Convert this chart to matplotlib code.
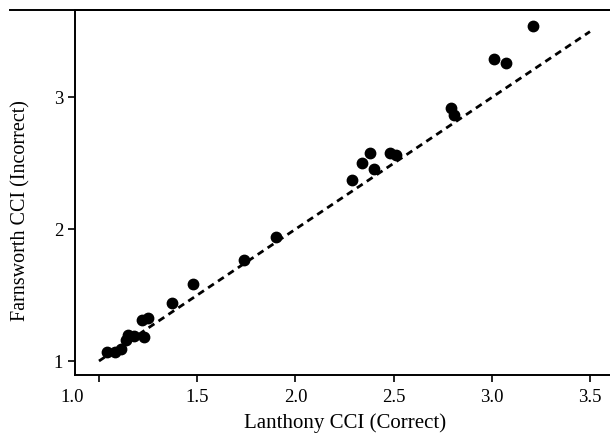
import matplotlib
matplotlib.use("Agg")
import matplotlib.pyplot as plt
import matplotlib.transforms as mtransforms
from matplotlib.lines import Line2D

# Lanthony vs Farnsworth CCI
lanthony = [1.04, 1.08, 1.11, 1.14, 1.15, 1.18, 1.22, 1.25, 1.23, 1.37, 1.48,
            1.74, 1.90, 2.29, 2.34, 2.38, 2.40, 2.48, 2.51, 2.79, 2.81,
            3.01, 3.07, 3.21]
farnsworth = [1.07, 1.07, 1.09, 1.16, 1.20, 1.19, 1.31, 1.33, 1.18, 1.44, 1.585,
              1.77, 1.94, 2.37, 2.50, 2.58, 2.46, 2.58, 2.56, 2.92, 2.87,
              3.29, 3.26, 3.54]
ident = [1.0, 3.5]
xticks = [1.0, 1.5, 2.0, 2.5, 3.0, 3.5]
yticks = [1, 2, 3]

plt.rcParams['font.family'] = ['Liberation Serif', 'DejaVu Serif']

fig = plt.figure(figsize=(6.10, 4.34), dpi=100)
ax = fig.add_axes([0.123, 0.136, 0.877, 0.841])

ax.plot(ident, ident, color="black", lw=2.0, linestyle=(0, (2.5, 1.8)))
ax.scatter(lanthony, farnsworth, s=56, color="black", zorder=3)

ax.set_xlim(0.878, 3.602)
ax.set_ylim(0.894, 3.664)
ax.set_xticks(xticks)
ax.set_xticklabels(["%.1f" % v for v in xticks])
ax.set_yticks(yticks)
ax.set_yticklabels([str(v) for v in yticks])
ax.tick_params(direction="out", length=5, width=1.2, labelsize=13.5, color="black")
ax.tick_params(axis="x", pad=5)

# first x label sits left of its tick in the original
lab = ax.get_xticklabels()[0]
lab.set_transform(lab.get_transform() + mtransforms.ScaledTranslation(-0.27, 0, fig.dpi_scale_trans))

for s in ["right"]:
    ax.spines[s].set_visible(False)
for s in ["left", "bottom", "top"]:
    ax.spines[s].set_linewidth(1.4)

# top rule runs past the y axis
fig.add_artist(Line2D([10 / 610, 1.0], [1 - 10 / 434, 1 - 10 / 434],
                      transform=fig.transFigure, color="black", lw=1.4))

ax.set_xlabel("Lanthony CCI (Correct)", fontsize=15)
ax.xaxis.set_label_coords(0.505, -0.105)
ax.set_ylabel("Farnsworth CCI (Incorrect)", fontsize=14.5)
ax.yaxis.set_label_coords(-0.083, 0.45)

fig.savefig("out.png", dpi=100)
